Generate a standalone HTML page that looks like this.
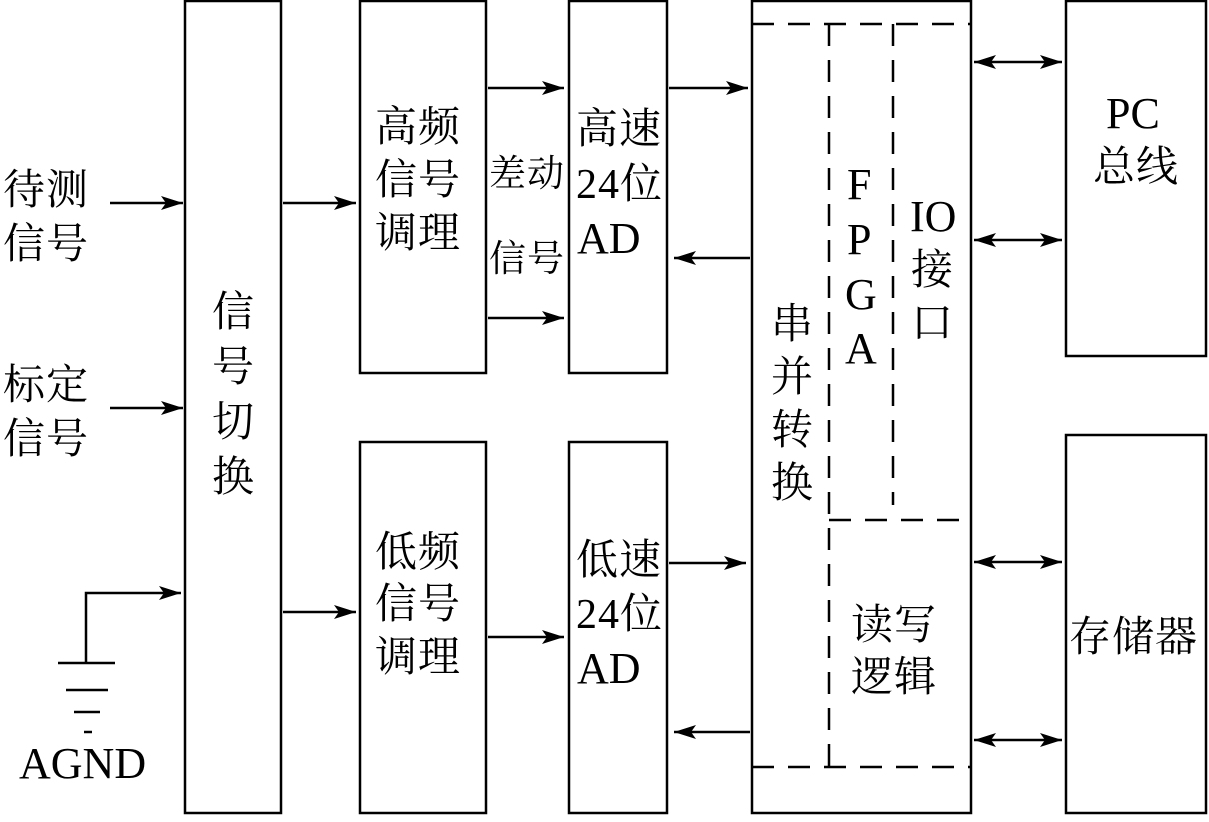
<!DOCTYPE html>
<html><head><meta charset="utf-8"><style>
body{margin:0;background:#fff}
text{font-family:"Liberation Serif","Noto Serif CJK SC",serif;font-size:42px;fill:#000}
.c{letter-spacing:1px}
.l{font-size:44px}
</style></head><body>
<svg width="1209" height="817" viewBox="0 0 1209 817" xmlns="http://www.w3.org/2000/svg">
<defs>
<marker id="b" markerWidth="22" markerHeight="14" refX="22" refY="7" orient="auto-start-reverse" markerUnits="userSpaceOnUse"><path d="M0,0 L22,7 L0,14 L5,7 Z"/></marker>
</defs>
<g fill="none" stroke="#000" stroke-width="2.5">
<rect x="185" y="1" width="96" height="812"/>
<rect x="360" y="1" width="126" height="372"/>
<rect x="360" y="442" width="126" height="371"/>
<rect x="569" y="1" width="98" height="372"/>
<rect x="569" y="442" width="98" height="371"/>
<rect x="752" y="1" width="219" height="812"/>
<rect x="1066" y="1" width="140" height="355"/>
<rect x="1066" y="435" width="140" height="378"/>
</g>
<g fill="none" stroke="#000" stroke-width="2.5" stroke-dasharray="22,14">
<line x1="752" y1="24" x2="971" y2="24"/>
<line x1="752" y1="767" x2="971" y2="767"/>
<line x1="829" y1="24" x2="829" y2="767"/>
<line x1="893" y1="24" x2="893" y2="505"/>
<line x1="829" y1="520" x2="971" y2="520"/>
</g>
<g stroke="#000" stroke-width="2.5" fill="none">
<line x1="110" y1="203" x2="183" y2="203" marker-end="url(#b)"/>
<line x1="110" y1="408" x2="183" y2="408" marker-end="url(#b)"/>
<polyline points="86,663 86,593 181,593" marker-end="url(#b)"/>
<line x1="58" y1="663" x2="115" y2="663"/>
<line x1="66" y1="690" x2="108" y2="690"/>
<line x1="74" y1="712" x2="100" y2="712"/>
<line x1="84" y1="732" x2="92" y2="732"/>
<line x1="283" y1="203" x2="356" y2="203" marker-end="url(#b)"/>
<line x1="283" y1="612" x2="356" y2="612" marker-end="url(#b)"/>
<line x1="488" y1="88" x2="564" y2="88" marker-end="url(#b)"/>
<line x1="488" y1="318" x2="564" y2="318" marker-end="url(#b)"/>
<line x1="488" y1="637" x2="564" y2="637" marker-end="url(#b)"/>
<line x1="669" y1="88" x2="748" y2="88" marker-end="url(#b)"/>
<line x1="669" y1="563" x2="746" y2="563" marker-end="url(#b)"/>
<line x1="750" y1="258" x2="674" y2="258" marker-end="url(#b)"/>
<line x1="750" y1="732" x2="674" y2="732" marker-end="url(#b)"/>
<line x1="974" y1="62" x2="1062" y2="62" marker-start="url(#b)" marker-end="url(#b)"/>
<line x1="974" y1="240" x2="1062" y2="240" marker-start="url(#b)" marker-end="url(#b)"/>
<line x1="974" y1="562" x2="1062" y2="562" marker-start="url(#b)" marker-end="url(#b)"/>
<line x1="974" y1="740" x2="1062" y2="740" marker-start="url(#b)" marker-end="url(#b)"/>
</g>
<g class="c">
<text x="3" y="204">待测</text><text x="3" y="258">信号</text>
<text x="3" y="399">标定</text><text x="3" y="453">信号</text>
<text x="212" y="326">信</text><text x="212" y="381">号</text><text x="212" y="436">切</text><text x="212" y="491">换</text>
<text x="375" y="141">高频</text><text x="375" y="194">信号</text><text x="375" y="247">调理</text>
<text x="375" y="566">低频</text><text x="375" y="618">信号</text><text x="375" y="671">调理</text>
<text x="489" y="186" style="font-size:37px">差动</text><text x="489" y="271" style="font-size:37px">信号</text>
<text x="576" y="143">高速</text><text x="576" y="198">24位</text>
<text x="576" y="574">低速</text><text x="576" y="628">24位</text>
<text x="771" y="338">串</text><text x="771" y="391">并</text><text x="771" y="444">转</text><text x="771" y="497">换</text>
<text x="911" y="284">接</text><text x="911" y="337">口</text>
<text x="851" y="639">读写</text><text x="851" y="691">逻辑</text>
<text x="1093" y="181">总线</text>
<text x="1069" y="651">存储器</text>
</g>
<text class="l" x="19" y="778">AGND</text>
<text class="l" x="577" y="253">AD</text>
<text class="l" x="577" y="683">AD</text>
<text class="l" x="847" y="199">F</text><text class="l" x="847" y="254">P</text><text class="l" x="845" y="309">G</text><text class="l" x="845" y="363">A</text>
<text class="l" x="910" y="231">IO</text>
<text class="l" x="1106" y="128">PC</text>
</svg>
</body></html>
